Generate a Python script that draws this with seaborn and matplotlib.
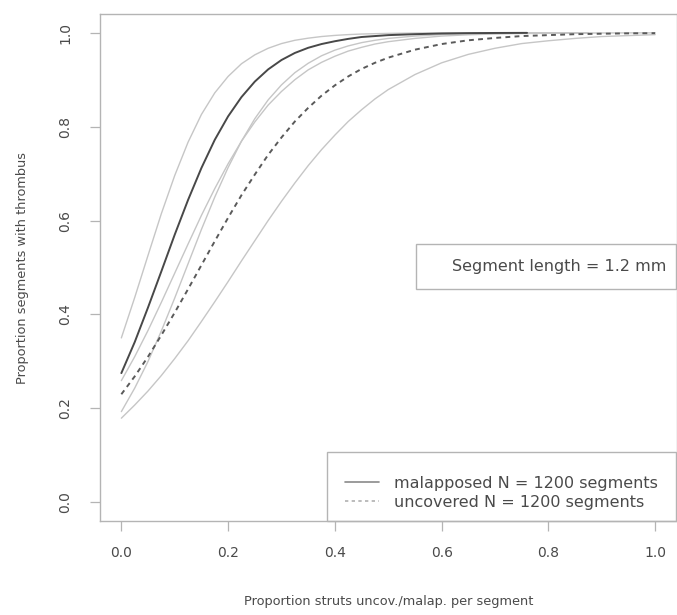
import numpy as np
import pandas as pd
import seaborn as sns
import matplotlib
matplotlib.use("Agg")
import matplotlib.pyplot as plt
from matplotlib.lines import Line2D
from matplotlib.patches import Rectangle

# ---- data ----
x_fine = [0.000, 0.025, 0.050, 0.075, 0.100, 0.125, 0.150, 0.175, 0.200, 0.225,
          0.250, 0.275, 0.300, 0.325, 0.350, 0.375, 0.400, 0.425, 0.450, 0.475, 0.500]

x_mal = x_fine + [0.55, 0.60, 0.65, 0.70, 0.76]
mal_fit = [0.275, 0.341, 0.415, 0.492, 0.570, 0.644, 0.712, 0.772, 0.822, 0.863,
           0.896, 0.922, 0.942, 0.957, 0.968, 0.976, 0.982, 0.987, 0.991, 0.993, 0.995,
           0.997, 0.9985, 0.9992, 0.9996, 0.9998]

x_mal_ci = x_fine + [0.55, 0.60, 0.65, 0.70, 0.75, 0.80, 0.875]
mal_upper = [0.350, 0.436, 0.526, 0.615, 0.696, 0.767, 0.826, 0.872, 0.907, 0.934,
             0.953, 0.967, 0.977, 0.984, 0.9885, 0.992, 0.9944, 0.9961, 0.9973, 0.9981, 0.9987,
             0.9994, 0.9997, 0.9998, 0.9999, 1.0, 1.0, 1.0]
mal_lower = [0.193, 0.243, 0.300, 0.365, 0.435, 0.508, 0.581, 0.650, 0.713, 0.769,
             0.817, 0.857, 0.889, 0.915, 0.935, 0.951, 0.963, 0.972, 0.979, 0.984, 0.988,
             0.993, 0.996, 0.9977, 0.9987, 0.9992, 0.9996, 0.9998]

x_unc = x_fine + [0.55, 0.60, 0.65, 0.70, 0.75, 0.80, 0.85, 0.90, 0.95, 1.00]
unc_fit = [0.230, 0.268, 0.310, 0.356, 0.404, 0.454, 0.505, 0.556, 0.606, 0.654,
           0.698, 0.740, 0.777, 0.811, 0.840, 0.866, 0.888, 0.907, 0.923, 0.936, 0.947,
           0.964, 0.976, 0.984, 0.989, 0.993, 0.995, 0.997, 0.998, 0.9988, 0.9992]
unc_upper = [0.259, 0.310, 0.366, 0.426, 0.488, 0.550, 0.611, 0.668, 0.721, 0.769,
             0.810, 0.846, 0.875, 0.900, 0.921, 0.937, 0.950, 0.961, 0.969, 0.976, 0.981,
             0.988, 0.993, 0.9957, 0.9974, 0.9984, 0.999, 0.9994, 0.9996, 0.9998, 0.9998]
unc_lower = [0.179, 0.207, 0.237, 0.270, 0.306, 0.344, 0.385, 0.427, 0.470, 0.514,
             0.557, 0.600, 0.641, 0.680, 0.717, 0.751, 0.782, 0.811, 0.836, 0.859, 0.879,
             0.911, 0.936, 0.954, 0.967, 0.977, 0.983, 0.988, 0.992, 0.994, 0.996]

x_ticks = [0.0, 0.2, 0.4, 0.6, 0.8, 1.0]
y_ticks = [0.0, 0.2, 0.4, 0.6, 0.8, 1.0]
legend_labels = ["malapposed N = 1200 segments", "uncovered N = 1200 segments"]
note_text = "Segment length = 1.2 mm"
x_label = "Proportion struts uncov./malap. per segment"
y_label = "Proportion segments with thrombus"

# ---- style ----
sns.set_theme(style="white")
plt.rcParams["font.family"] = ["DejaVu Sans"]
txt_col = "#4a4a4a"
box_col = "#b4b4b4"
ci_col = "#c6c6c6"

fig = plt.figure(figsize=(6.77, 6.15), dpi=100)
ax = fig.add_axes([100 / 677, 1 - 521 / 615, 576.5 / 677, (521 - 14) / 615])

# CI lines (light grey)
for xs, ys in [(x_mal_ci, mal_upper), (x_mal_ci, mal_lower),
               (x_unc, unc_upper), (x_unc, unc_lower)]:
    sns.lineplot(x=xs, y=ys, ax=ax, color=ci_col, lw=1.0, estimator=None, sort=False)
# fitted lines
sns.lineplot(x=x_unc, y=unc_fit, ax=ax, color="#5a5a5a", lw=1.4, estimator=None, sort=False,
             linestyle=(0, (2.5, 2.2)))
sns.lineplot(x=x_mal, y=mal_fit, ax=ax, color="#484848", lw=1.4, estimator=None, sort=False)

ax.set_xlim(-0.04, 1.04)
ax.set_ylim(-0.04, 1.04)
ax.set_xticks(x_ticks)
ax.set_yticks(y_ticks)
ax.set_xticklabels([f"{v:.1f}" for v in x_ticks])
ax.set_yticklabels([f"{v:.1f}" for v in y_ticks], rotation=90, va="center")
ax.tick_params(axis="both", which="both", direction="out", length=7, width=0.9,
               color=box_col, labelcolor=txt_col, labelsize=10, bottom=True, left=True)
ax.tick_params(axis="x", pad=11)
ax.tick_params(axis="y", pad=13)
for s in ax.spines.values():
    s.set_color(box_col)
    s.set_linewidth(1.0)
    s.set_visible(True)
ax.set_xlabel(x_label, color=txt_col, fontsize=9.3, labelpad=25)
ax.set_ylabel(y_label, color=txt_col, fontsize=9.3, labelpad=21)
ax.grid(False)

# note box at right
ax.add_patch(Rectangle((0.552, 0.454), 1.04 - 0.552, 0.096, fill=False,
                       edgecolor=box_col, lw=1.0, transform=ax.transData, clip_on=False))
ax.text(0.62, 0.502, note_text, color=txt_col, fontsize=11.5, va="center", ha="left")

# legend box (frame drawn separately, R-style)
ax.add_patch(Rectangle((0.386, -0.04), 1.04 - 0.386, 0.1466, fill=False,
                       edgecolor=box_col, lw=1.0, transform=ax.transData, clip_on=False))
handles = [Line2D([], [], color="#8a8a8a", lw=1.2),
           Line2D([], [], color="#b0b0b0", lw=1.2, linestyle=(0, (2, 2)))]
leg = ax.legend(handles, legend_labels, loc="center left", bbox_to_anchor=(0.419, 0.0203),
                bbox_transform=ax.transData, borderaxespad=0, fontsize=11.5, frameon=False,
                handlelength=2.1, handletextpad=0.95, borderpad=0.0, labelspacing=0.25,
                labelcolor=txt_col)

fig.savefig("out.png", dpi=100)
